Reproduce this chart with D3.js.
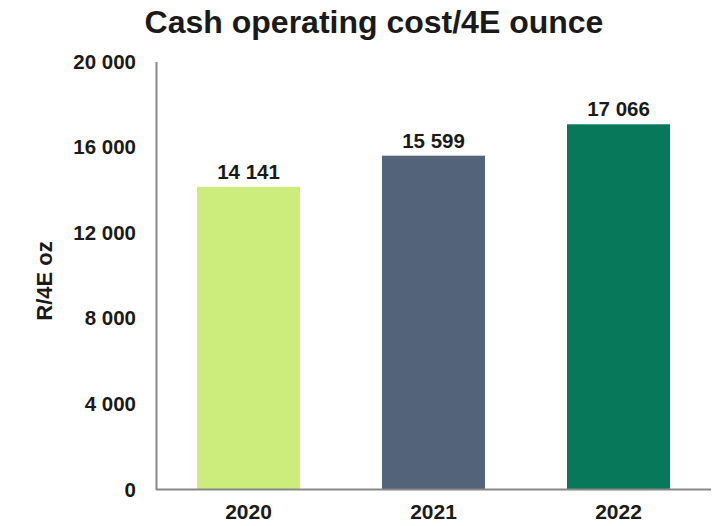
<!DOCTYPE html>
<html><head><meta charset="utf-8">
<script src="https://cdn.jsdelivr.net/npm/d3@7"></script>
<style>body{margin:0;background:#fff}svg{display:block}text{font-family:"Liberation Sans",Arial,sans-serif;font-weight:bold;fill:#1a1a1a}</style>
</head><body>
<script>
const categories = ["2020","2021","2022"];
const values = [14141,15599,17066];
const colors = ["#cced7b","#536379","#07795a"];
const yTicks = [0,4000,8000,12000,16000,20000];
const title = "Cash operating cost/4E ounce";
const yTitle = "R/4E oz";

const W=715,H=526;
const svg=d3.select("body").append("svg").attr("width",W).attr("height",H);
const x=d3.scaleBand().domain(categories).range([156,711]).paddingInner(0.443).paddingOuter(0.2215);
const y=d3.scaleLinear().domain([0,20000]).range([489.5,61.5]);
const fmt=v=>d3.format(",")(v).replace(/,/g," ");

svg.append("text").attr("x",374).attr("y",33).attr("text-anchor","middle").style("font-size","32px").text(title);

svg.selectAll("rect.bar").data(values).join("rect").attr("class","bar")
  .attr("x",(d,i)=>x(categories[i])).attr("width",x.bandwidth())
  .attr("y",d=>y(d)).attr("height",d=>y(0)-y(d)).attr("fill",(d,i)=>colors[i]);

svg.selectAll("text.val").data(values).join("text").attr("class","val")
  .attr("x",(d,i)=>x(categories[i])+x.bandwidth()/2).attr("y",d=>y(d)-8)
  .attr("text-anchor","middle").style("font-size","20.5px").text(d=>fmt(d));

const yAxis=svg.append("g").attr("transform","translate(156,0)")
  .call(d3.axisLeft(y).tickValues(yTicks).tickSize(0).tickPadding(20).tickFormat(fmt));
yAxis.select(".domain").attr("stroke","#888").attr("stroke-width",2);
yAxis.selectAll("text").style("font-size","20.5px").attr("fill","#1a1a1a").attr("font-family",null);

const xAxis=svg.append("g").attr("transform","translate(0,489.5)")
  .call(d3.axisBottom(x).tickSize(0).tickPadding(15));
xAxis.select(".domain").attr("stroke","#888").attr("stroke-width",2).attr("d","M156,0H711");
xAxis.selectAll("text").style("font-size","21px").attr("fill","#1a1a1a").attr("font-family",null);

svg.append("text").attr("transform","translate(52,281) rotate(-90)").attr("text-anchor","middle").style("font-size","22px").text(yTitle);
</script>
</body></html>
